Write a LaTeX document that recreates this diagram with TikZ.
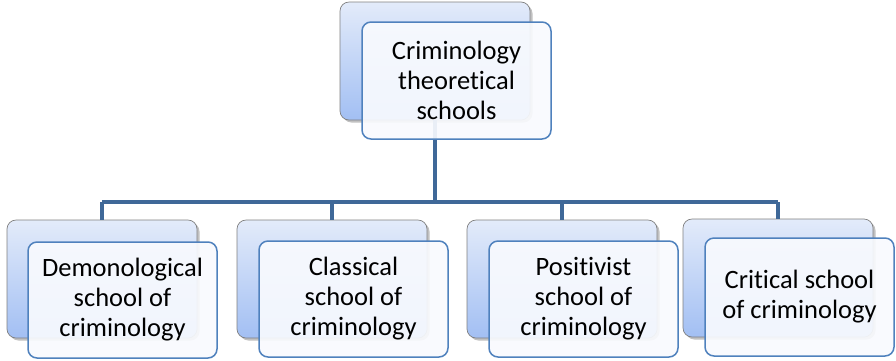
\documentclass[tikz,border=0pt]{standalone}
\usepackage{fontspec}
\setmainfont[RawFeature={-liga;-clig}]{Carlito}
\usetikzlibrary{shadows}
\definecolor{backtop}{HTML}{E3EBFA}
\definecolor{backbot}{HTML}{A2BFF3}
\definecolor{backdraw}{HTML}{808080}
\definecolor{frontdraw}{HTML}{4F81BD}
\definecolor{frontfill}{HTML}{F8FAFE}
\definecolor{conncol}{HTML}{3F6898}
\tikzset{
  backbox/.style={draw=backdraw, line width=0.7pt, rounded corners=9pt,
    top color=backtop, bottom color=backbot, minimum width=190pt,
    minimum height=118pt, inner sep=0pt, outer sep=0pt, anchor=north west,
    drop shadow={shadow xshift=2.5pt, shadow yshift=-2.5pt, opacity=0.35, fill=black!70}},
  frontbox/.style={draw=frontdraw, line width=1.5pt, rounded corners=9pt,
    fill=frontfill, fill opacity=0.92, text opacity=1, minimum width=189pt,
    minimum height=117pt, inner sep=0pt, outer sep=0pt, anchor=north west,
    align=center, font=\fontsize{26.5}{30}\selectfont, text=black},
  conn/.style={draw=conncol, line width=3.5pt}
}
\begin{document}
\begin{tikzpicture}[x=1pt,y=-1pt]
\useasboundingbox (0,0) rectangle (896,360);
% back boxes
\node[backbox] (tb) at (340,2) {};
\node[backbox] (b1) at (7,220) {};
\node[backbox] (b2) at (237,220) {};
\node[backbox] (b3) at (467,220) {};
\node[backbox] (b4) at (683,219) {};
% connectors
\coordinate (bus) at (435,202);
\draw[conn] (tb.south) -- (tb.south |- bus);
\draw[conn] (b1.north |- bus) -- (b4.north |- bus);
\draw[conn] (b1.north |- bus) -- (b1.north);
\draw[conn] (b2.north |- bus) -- (b2.north);
\draw[conn] (b3.north |- bus) -- (b3.north);
\draw[conn] (b4.north |- bus) -- (b4.north);
% front boxes
\node[frontbox] (tf) at (362,22) {Criminology\\theoretical\\schools};
\node[frontbox, minimum height=116pt] (f1) at (28,242) {Demonological\\school of\\criminology};
\node[frontbox, minimum height=116pt] (f2) at (259,241) {Classical\\school of\\criminology};
\node[frontbox, minimum height=116pt] (f3) at (489,241) {Positivist\\school of\\criminology};
\node[frontbox, minimum height=118pt] (f4) at (705,238) {Critical school\\of criminology};
\end{tikzpicture}
\end{document}
